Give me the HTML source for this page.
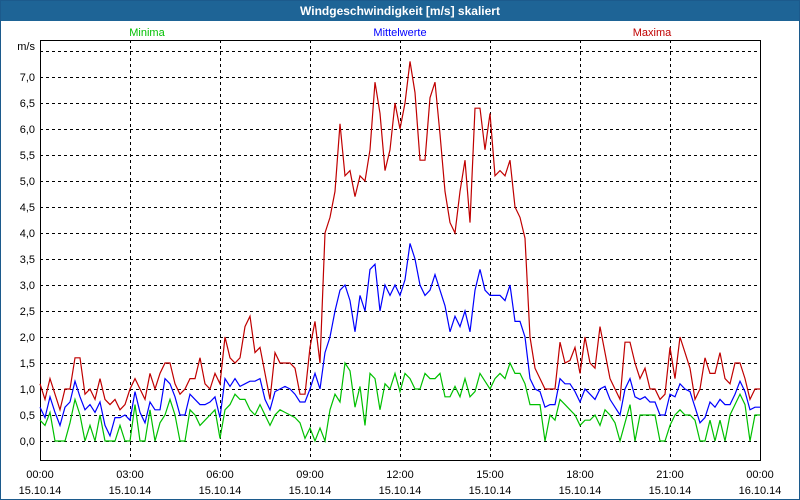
<!DOCTYPE html>
<html><head><meta charset="utf-8"><style>
body{margin:0;width:800px;height:500px;overflow:hidden;background:#fff;font-family:"Liberation Sans",sans-serif}
#wrap{position:absolute;left:0;top:0;width:798px;height:498px;border:1px solid #1c5a8c;background:#fff}
#title{position:absolute;left:0;top:0;width:798px;height:20px;background:#1e6496;color:#fff;font-size:12px;font-weight:bold;text-align:center;line-height:20px}
svg{position:absolute;left:0;top:0}
</style></head><body>
<div id="wrap">
<div id="title">Windgeschwindigkeit [m/s] skaliert</div>
</div>
<svg id="chart" width="800" height="500"></svg>
<script>
const yTicks=["0,0","0,5","1,0","1,5","2,0","2,5","3,0","3,5","4,0","4,5","5,0","5,5","6,0","6,5","7,0"];
const xTimes=["00:00","03:00","06:00","09:00","12:00","15:00","18:00","21:00","00:00"];
const xDates=["15.10.14","15.10.14","15.10.14","15.10.14","15.10.14","15.10.14","15.10.14","15.10.14","16.10.14"];
const maxima=[1.1,0.8,1.2,0.9,0.6,1.0,1.0,1.6,1.6,0.9,1.0,0.8,1.2,0.8,0.7,0.8,0.6,0.7,1.0,1.2,1.0,0.8,1.3,1.0,1.3,1.5,1.5,1.1,0.9,1.0,1.2,1.2,1.6,1.1,1.0,1.3,1.1,2.0,1.6,1.5,1.6,2.2,2.4,1.7,1.8,1.3,0.8,1.7,1.5,
1.5,1.5,1.4,0.9,0.9,1.8,2.3,1.5,4.0,4.3,4.8,6.1,5.1,5.2,4.7,5.1,5.0,5.6,6.9,6.3,5.2,5.6,6.5,6.0,6.5,7.3,6.7,5.4,5.4,6.6,6.9,5.9,4.8,4.2,4.0,4.8,5.4,4.2,6.4,6.4,5.6,6.3,5.1,5.2,5.1,5.4,4.5,4.3,3.9,2.0,1.4,1.2,
1.0,1.0,1.0,1.9,1.5,1.55,1.8,1.3,2.0,1.5,1.4,2.2,1.7,1.2,1.0,0.8,1.9,1.9,1.5,1.2,1.4,1.0,1.0,0.8,0.9,1.8,1.2,2.0,1.7,1.4,0.8,1.0,1.6,1.3,1.3,1.7,1.2,1.1,1.5,1.5,1.2,0.8,1.0,1.0];
const mittel=[0.65,0.45,0.85,0.55,0.3,0.65,0.75,1.15,0.85,0.6,0.7,0.55,0.75,0.3,0.1,0.45,0.45,0.5,0.4,0.95,0.55,0.35,0.75,0.6,0.6,1.2,1.1,0.85,0.5,0.5,0.9,0.8,0.7,0.7,0.75,0.85,0.45,1.2,1.05,1.2,1.05,1.1,1.15,1.15,1.2,0.8,0.6,0.95,1.0,
1.05,1.0,0.9,0.75,0.75,1.0,1.3,1.0,1.7,2.0,2.5,2.9,3.0,2.7,2.1,2.8,2.5,3.3,3.4,2.5,3.0,2.8,3.0,2.8,3.1,3.8,3.5,3.0,2.8,2.9,3.2,2.9,2.6,2.1,2.4,2.2,2.5,2.1,2.9,3.3,2.9,2.8,2.8,2.8,2.7,3.0,2.3,2.3,2.0,1.2,1.0,0.95,
0.65,0.7,0.7,1.2,1.1,1.1,0.95,0.75,1.0,0.9,0.8,1.0,1.05,0.8,0.65,0.5,1.0,1.2,0.85,0.8,0.85,0.75,0.75,0.5,0.5,0.9,0.85,1.1,1.0,0.95,0.65,0.35,0.45,0.75,0.65,0.8,0.7,0.7,0.9,1.15,0.95,0.6,0.65,0.65];
const minima=[0.4,0.3,0.55,0.0,0.0,0.0,0.35,0.8,0.5,0.0,0.3,0.0,0.5,0.0,0.0,0.0,0.3,0.0,0.0,0.7,0.0,0.0,0.6,0.0,0.35,0.5,0.8,0.5,0.0,0.0,0.6,0.5,0.3,0.4,0.5,0.6,0.05,0.6,0.7,0.9,0.8,0.8,0.6,0.5,0.7,0.5,0.3,0.5,0.6,
0.55,0.5,0.45,0.35,0.05,0.25,0.0,0.25,0.0,0.6,0.9,0.75,1.5,1.35,0.65,1.05,0.3,1.3,1.2,0.6,1.1,1.0,1.3,0.95,1.3,1.2,1.0,1.0,1.3,1.2,1.2,1.3,0.85,0.85,1.05,0.85,1.2,0.85,0.95,1.3,1.15,1.0,1.2,1.3,1.2,1.5,1.3,1.3,1.1,0.7,0.7,0.7,
0.0,0.5,0.4,0.8,0.7,0.6,0.5,0.3,0.4,0.4,0.5,0.3,0.6,0.5,0.35,0.0,0.35,0.7,0.0,0.5,0.5,0.5,0.5,0.0,0.0,0.3,0.5,0.6,0.5,0.5,0.4,0.0,0.0,0.4,0.0,0.4,0.0,0.5,0.7,0.9,0.7,0.0,0.5,0.5];

const NS="http://www.w3.org/2000/svg";
const svg=document.getElementById('chart');
const L=40,R=760,T=40,B=460;
function yS(v){return 441-v*52;}
function xS(i){return L+i*5;}
function xH(k){return L+k*90;}
function mk(tag,attrs){const e=document.createElementNS(NS,tag);for(const k in attrs)e.setAttribute(k,attrs[k]);svg.appendChild(e);return e;}

// horizontal grid
for(let k=0;k<=15;k++){
  const y=yS(k*0.5)+0.5;
  const g=mk('line',{x1:L,x2:R,y1:y,y2:y,stroke:'#000','stroke-dasharray':'3,3','stroke-width':1});
  
  
}
// vertical grid
for(let k=1;k<8;k++){
  const x=xH(k)+0.5;
  const g=mk('line',{x1:x,x2:x,y1:T,y2:B,stroke:'#000','stroke-dasharray':'3,3','stroke-width':1});
  
  
}
// frame
const fr=mk('rect',{x:L+0.5,y:T+0.5,width:R-L,height:B-T,fill:'none',stroke:'#000','stroke-width':1});



// y labels
yTicks.forEach((t,i)=>{
  const e=mk('text',{x:35,y:yS(i*0.5)+4,'text-anchor':'end','font-size':11,fill:'#000'});
  e.textContent=t;
  
  
});
const u=mk('text',{x:35,y:50,'text-anchor':'end','font-size':11,fill:'#000'});
u.textContent='m/s';



// x labels
xTimes.forEach((t,i)=>{
  const a=mk('text',{x:xH(i),y:478,'text-anchor':'middle','font-size':11,fill:'#000'});
  a.textContent=t;
  
  
  const b=mk('text',{x:xH(i),y:494,'text-anchor':'middle','font-size':11,fill:'#000'});
  b.textContent=xDates[i];
  
  
});

// legend
[["Minima",147,"#00c000"],["Mittelwerte",400,"#0000ff"],["Maxima",652,"#c00000"]].forEach(l=>{
  const e=mk('text',{x:l[1],y:36,'text-anchor':'middle','font-size':11,fill:l[2]});
  e.textContent=l[0];
  
  
});

// series
function series(arr,color,name){
  const pts=arr.map((v,i)=>xS(i)+','+yS(v).toFixed(1)).join(' ');
  const p=mk('polyline',{points:pts,fill:'none',stroke:color,'stroke-width':1.2});
  
  
}
series(minima,'#00c000','minima-line');
series(mittel,'#0000ff','mittelwerte-line');
series(maxima,'#c00000','maxima-line');
</script>
</body></html>
